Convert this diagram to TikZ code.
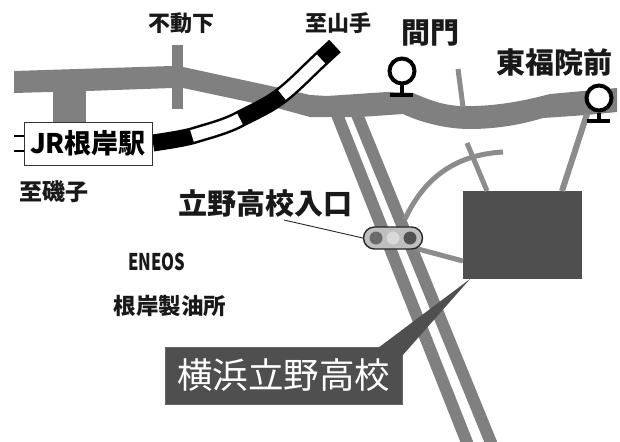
\documentclass[tikz,border=0pt]{standalone}
\usepackage{fontspec}
\setmainfont{Noto Sans CJK JP}
\definecolor{roadc}{gray}{0.5}
\definecolor{thinc}{gray}{0.55}
\definecolor{darkc}{gray}{0.31}
\tikzset{
  lbl/.style={inner sep=0pt,text=black!90,font=\bfseries\fontsize{#1}{#1}\selectfont},
  strip/.style={draw=roadc,line width=12pt},
  thinroad/.style={draw=thinc,line width=5pt},
  stoplbl/.style={draw=black,line width=4pt},
  stopring/.style={circle,draw=black,line width=4pt,fill=white,minimum size=25pt,inner sep=0pt},
  lamp/.style={circle,fill=#1,minimum size=13pt,inner sep=0pt},
}
\begin{document}
\begin{tikzpicture}[x=1pt,y=-1pt]
\useasboundingbox (0,0) rectangle (620,441);
\clip (0,0) rectangle (620,441);
\fill[white] (0,0) rectangle (620,441);
\coordinate (stripAa) at (336,112);
\coordinate (stripAb) at (470,450);
\coordinate (stripBa) at (356,112);
\coordinate (stripBb) at (494,450);
\draw[strip] (stripAa) -- (stripAb);
\draw[strip] (stripBa) -- (stripBb);
% cross road and side road
\fill[roadc] (53,85) rectangle (86,125);
\fill[roadc] (172,45) rectangle (183,109);
% main road
\fill[roadc] (14,71) -- (172,66) -- (183,67) -- (280,88) -- (310,95) -- (327,96) -- (387,92) -- (413,93)
  .. controls (425,98) and (440,105) .. (460,106)
  .. controls (490,107) and (520,102) .. (550,94)
  -- (617,88) -- (617,112) -- (587,115) -- (543,118)
  .. controls (520,125) and (495,129) .. (470,129)
  .. controls (445,129) and (420,122) .. (403,114)
  -- (360,117) -- (310,117) -- (277,108) -- (183,88) -- (172,88) -- (87,91) -- (14,93) -- cycle;
% building and signal
\node[fill=darkc,minimum width=119pt,minimum height=88pt,inner sep=0pt] (school) at (522.5,235) {};
\coordinate (n1) at (458,69);
\coordinate (n2) at (463,107);
\draw[thinroad] (n1) -- (n2);
\coordinate (c1) at (405,219);
\coordinate (c2) at (503,152);
\draw[thinroad] (c1) .. controls (422,183) and (450,155) .. (c2);
\coordinate (d1) at (467,143);
\coordinate (d2) at (487,191);
\draw[thinroad] (d1) -- (d2);
\coordinate (e1) at (587,114);
\coordinate (e2) at (562,191);
\draw[draw=thinc,line width=6pt] (e1) -- (e2);
\coordinate (f1) at (418,249);
\coordinate (f2) at (463,261);
\draw[thinroad] (f1) -- (f2);
% signal
\node[draw=black!85,line width=1.4pt,fill=black!25,rounded corners=11pt,minimum width=59pt,minimum height=22pt,inner sep=0pt] (signal) at (393,238) {};
\node[lamp=black!58] (lampA) at (376,238) {};
\node[lamp=black!15] (lampB) at (393,238) {};
\node[lamp=black!68] (lampC) at (410,238) {};
\coordinate (lead) at (284,220);
\draw[black!85,line width=0.9pt] (lead) -- (signal.west);
% rail
\coordinate (ra) at (153,143);
\coordinate (rb) at (192,136);
\coordinate (rc) at (240,119);
\coordinate (rd) at (282,95);
\coordinate (re) at (321,59);
\coordinate (rf) at (335,46);
\draw[black,line width=17pt] (ra) .. controls (166,141) and (180,139) .. (rb)
  .. controls (208,131) and (225,127) .. (rc)
  .. controls (255,111) and (268,106) .. (rd)
  .. controls (296,84) and (308,71) .. (re) -- (rf);
\draw[white,line width=12pt] (rb) .. controls (208,131) and (225,127) .. (rc);
\draw[white,line width=12pt] (rd) .. controls (296,84) and (308,71) .. (re);
\draw[black,line width=2.2pt] (14,136) -- (24,136) (14,151) -- (24,151);
% station box
\node[draw=black!80,line width=1pt,fill=white,minimum width=128pt,minimum height=43pt,inner sep=0pt,font=\bfseries\fontsize{27}{27}\selectfont] (jr) at (88,143.5) {JR根岸駅};
% bus stops
\node[stopring] (stopA) at (402,71) {};
\coordinate (stopAb) at (402,95);
\draw[stoplbl] (stopA.south) -- (stopAb);
\draw[stoplbl] (390,95) -- (413,95);
\node[stopring] (stopB) at (599,98) {};
\coordinate (stopBb) at (599,121);
\draw[stoplbl] (stopB.south) -- (stopBb);
\draw[stoplbl] (587,121) -- (610,121);
% labels
\node[lbl=22] (t1) at (181,23) {不動下};
\node[lbl=22] (t2) at (338,23) {至山手};
\node[lbl=29] (t3) at (430,33) {間門};
\node[lbl=29] (t4) at (554.5,62) {東福院前};
\node[lbl=23] (t5) at (54,192) {至磯子};
\node[lbl=29] (t6) at (265,203) {立野高校入口};
\node[lbl=23,xscale=.72] (t7) at (157,262) {ENEOS};
\node[lbl=22.5] (t8) at (170,306) {根岸製油所};
% callout
\node[fill=darkc,draw=black!60,line width=0.5pt,minimum width=237pt,minimum height=57pt,inner sep=0pt,text=white,font=\fontsize{35.5}{35.5}\selectfont] (call) at (283.5,375.5) {横浜立野高校};
\coordinate (tailA) at (378,348);
\coordinate (tailB) at (402,356);
\coordinate (tailC) at (470,279);
\fill[darkc] (tailA) -- (tailC) -- (tailB) -- cycle;
\end{tikzpicture}
\end{document}
